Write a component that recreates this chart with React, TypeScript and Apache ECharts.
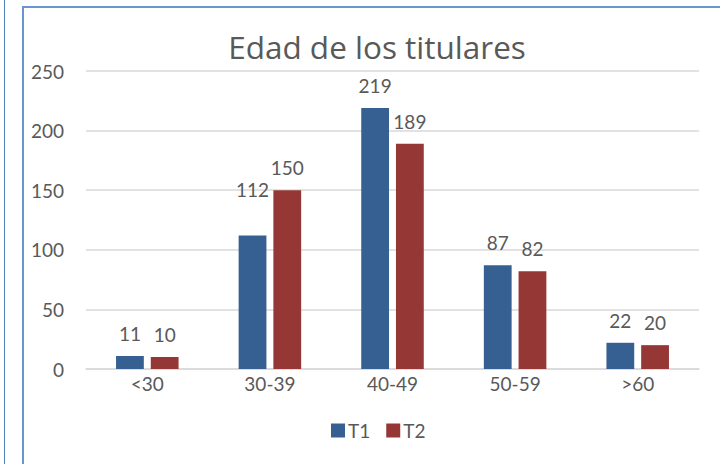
import React, { useEffect, useRef } from "react";
import * as echarts from "echarts";

const categories = ["<30", "30-39", "40-49", "50-59", ">60"];
const t1Values = [11, 112, 219, 87, 22];
const t2Values = [10, 150, 189, 82, 20];
const seriesNames = ["T1", "T2"];
const titleText = "Edad de los titulares";

const FONT = "Lato, 'Open Sans', sans-serif";
const TXT = "#595959";

export default function App() {
  const ref = useRef<HTMLDivElement>(null);
  useEffect(() => {
    if (!ref.current) return;
    const chart = echarts.init(ref.current, null, { renderer: "svg" });
    const label = {
      show: true,
      position: "top" as const,
      distance: 13,
      color: TXT,
      fontSize: 19,
      fontFamily: FONT,
    };
    const t1Data = t1Values.map((v, i) =>
      i === 1 ? { value: v, label: { offset: [0, -23] } } : v
    );
    chart.setOption({
      animation: false,
      backgroundColor: "#ffffff",
      textStyle: { fontFamily: FONT },
      title: {
        text: titleText,
        left: 377,
        top: 30,
        padding: 0,
        textAlign: "center",
        textStyle: { color: TXT, fontSize: 31.5, fontWeight: "normal", fontFamily: "'Open Sans', sans-serif" },
      },
      legend: {
        data: seriesNames,
        left: 331,
        top: 421,
        padding: 0,
        itemWidth: 14,
        itemHeight: 14,
        itemGap: 16,
        icon: "rect",
        textStyle: { color: TXT, fontSize: 19, fontFamily: FONT, padding: [0, 0, 0, -2] },
      },
      grid: { left: 86, right: 21, top: 71, bottom: 95 },
      xAxis: {
        type: "category",
        data: categories,
        axisLine: { show: true, lineStyle: { color: "#d9d9d9", width: 1.5 } },
        axisTick: { show: false },
        axisLabel: { color: TXT, fontSize: 19, fontFamily: FONT, margin: 5 },
      },
      yAxis: {
        type: "value",
        min: 0,
        max: 250,
        interval: 50,
        axisLine: { show: false },
        axisTick: { show: false },
        splitLine: { lineStyle: { color: "#d9d9d9", width: 1.5 } },
        axisLabel: { color: TXT, fontSize: 19, fontFamily: FONT, margin: 22 },
      },
      series: [
        {
          name: seriesNames[0],
          type: "bar",
          data: t1Data,
          barGap: "25%",
          barCategoryGap: "49%",
          itemStyle: { color: "#366092" },
          label,
        },
        {
          name: seriesNames[1],
          type: "bar",
          data: t2Values,
          itemStyle: { color: "#953735" },
          label,
        },
      ],
      graphic: [
        {
          type: "rect",
          shape: { x: 4, y: -10, width: 1, height: 490 },
          style: { fill: "#4f81bd" },
          silent: true,
        },
        {
          type: "rect",
          shape: { x: 23, y: 7, width: 710, height: 470 },
          style: { fill: "none", stroke: "#6a96cf", lineWidth: 2 },
          silent: true,
        },
      ],
    });
    return () => chart.dispose();
  }, []);
  return (
    <div
      ref={ref}
      style={{ position: "absolute", left: 0, top: 0, width: 720, height: 464 }}
    />
  );
}
